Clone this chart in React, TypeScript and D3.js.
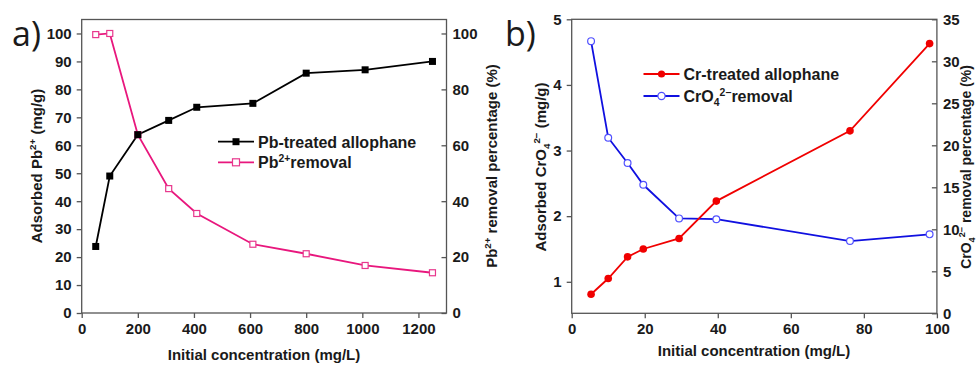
import React, { useEffect, useRef } from 'react';
import * as d3 from 'd3';

// Panel a: Pb
const pbConc = [50, 100, 200, 310, 410, 610, 800, 1010, 1250];
const pbAdsorbed = [23.8, 49, 63.8, 68.9, 73.6, 75, 85.8, 87, 90];
const pbRemoval = [99.6, 100, 63.8, 44.5, 35.6, 24.6, 21.2, 17, 14.4];
const pbXTicks = [0, 200, 400, 600, 800, 1000, 1200];
const pbLeftTicks = [0, 10, 20, 30, 40, 50, 60, 70, 80, 90, 100];
const pbRightTicks = [0, 20, 40, 60, 80, 100];

// Panel b: CrO4
const crConc = [5.3, 10, 15.3, 19.6, 29.4, 39.6, 76.2, 98];
const crAdsorbed = [0.81, 1.05, 1.38, 1.5, 1.66, 2.23, 3.3, 4.63];
const crRemoval = [32.4, 20.9, 17.9, 15.3, 11.3, 11.2, 8.6, 9.4];
const crXTicks = [0, 20, 40, 60, 80, 100];
const crLeftTicks = [1, 2, 3, 4, 5];
const crRightTicks = [0, 5, 10, 15, 20, 25, 30, 35];

const FONT = "'Liberation Sans', Arial, sans-serif";
const AXIS = '#555';

type Sel = d3.Selection<SVGGElement, unknown, null, undefined>;

function drawPanel(
  g: Sel,
  opt: {
    x0: number; x1: number; top: number; bottom: number;
    xDomain: [number, number]; yLDomain: [number, number]; yRDomain: [number, number];
    xTicks: number[]; yLTicks: number[]; yRTicks: number[];
    xs: number[]; left: number[]; right: number[];
    leftColor: string; rightColor: string; rightMarkerStroke: string;
    marker: 'square' | 'circle';
  }
) {
  const x = d3.scaleLinear().domain(opt.xDomain).range([opt.x0, opt.x1]);
  const yL = d3.scaleLinear().domain(opt.yLDomain).range([opt.bottom, opt.top]);
  const yR = d3.scaleLinear().domain(opt.yRDomain).range([opt.bottom, opt.top]);
  const fmt = (d: d3.NumberValue) => String(d);

  const styleAxis = (a: Sel) => {
    a.select('.domain').remove();
    a.selectAll('line').attr('stroke', AXIS).attr('stroke-width', 1.3);
    a.selectAll('text')
      .style('font-family', FONT)
      .style('font-weight', 'bold')
      .style('font-size', '15px')
      .attr('fill', '#1a1a1a');
  };

  g.append('g')
    .attr('transform', `translate(0,${opt.bottom})`)
    .call(d3.axisBottom(x).tickValues(opt.xTicks).tickFormat(fmt).tickSize(5).tickPadding(5))
    .call(styleAxis);
  g.append('g')
    .attr('transform', `translate(${opt.x0},0)`)
    .call(d3.axisLeft(yL).tickValues(opt.yLTicks).tickFormat(fmt).tickSize(5).tickPadding(5))
    .call(styleAxis);
  g.append('g')
    .attr('transform', `translate(${opt.x1},0)`)
    .call(d3.axisRight(yR).tickValues(opt.yRTicks).tickFormat(fmt).tickSize(-5).tickPadding(6))
    .call(styleAxis);

  g.append('rect')
    .attr('x', opt.x0)
    .attr('y', opt.top)
    .attr('width', opt.x1 - opt.x0)
    .attr('height', opt.bottom - opt.top)
    .attr('fill', 'none')
    .attr('stroke', AXIS)
    .attr('stroke-width', 1.3);

  const idx = d3.range(opt.xs.length);

  const line = (yScale: d3.ScaleLinear<number, number>, vals: number[]) =>
    d3.line<number>().x((i) => x(opt.xs[i])).y((i) => yScale(vals[i]))(idx);

  // right series (removal)
  g.append('path')
    .attr('d', line(yR, opt.right))
    .attr('fill', 'none')
    .attr('stroke', opt.rightColor)
    .attr('stroke-width', 1.8);
  // left series (adsorbed)
  g.append('path')
    .attr('d', line(yL, opt.left))
    .attr('fill', 'none')
    .attr('stroke', opt.leftColor)
    .attr('stroke-width', 1.8);

  if (opt.marker === 'square') {
    g.selectAll('.mr')
      .data(idx)
      .enter()
      .append('rect')
      .attr('x', (i) => x(opt.xs[i]) - 3)
      .attr('y', (i) => yR(opt.right[i]) - 3)
      .attr('width', 6)
      .attr('height', 6)
      .attr('fill', '#fff')
      .attr('stroke', opt.rightMarkerStroke)
      .attr('stroke-width', 1.2);
    g.selectAll('.ml')
      .data(idx)
      .enter()
      .append('rect')
      .attr('x', (i) => x(opt.xs[i]) - 3.5)
      .attr('y', (i) => yL(opt.left[i]) - 3.5)
      .attr('width', 7)
      .attr('height', 7)
      .attr('fill', opt.leftColor);
  } else {
    g.selectAll('.mr')
      .data(idx)
      .enter()
      .append('circle')
      .attr('cx', (i) => x(opt.xs[i]))
      .attr('cy', (i) => yR(opt.right[i]))
      .attr('r', 3.4)
      .attr('fill', '#fff')
      .attr('stroke', opt.rightMarkerStroke)
      .attr('stroke-width', 1.2);
    g.selectAll('.ml')
      .data(idx)
      .enter()
      .append('circle')
      .attr('cx', (i) => x(opt.xs[i]))
      .attr('cy', (i) => yL(opt.left[i]))
      .attr('r', 3.8)
      .attr('fill', opt.leftColor);
  }
}

function legendRow(
  g: Sel, lx: number, ly: number, color: string, markerStroke: string,
  marker: 'square' | 'circle', filled: boolean
) {
  g.append('line')
    .attr('x1', lx).attr('x2', lx + 36).attr('y1', ly).attr('y2', ly)
    .attr('stroke', color).attr('stroke-width', 1.8);
  const cx = lx + 18;
  if (marker === 'square') {
    g.append('rect')
      .attr('x', cx - 3.5).attr('y', ly - 3.5).attr('width', 7).attr('height', 7)
      .attr('fill', filled ? color : '#fff')
      .attr('stroke', filled ? 'none' : markerStroke).attr('stroke-width', 1.2);
  } else {
    g.append('circle')
      .attr('cx', cx).attr('cy', ly).attr('r', 3.6)
      .attr('fill', filled ? color : '#fff')
      .attr('stroke', filled ? 'none' : markerStroke).attr('stroke-width', 1.2);
  }
}

export default function App() {
  const ref = useRef<SVGSVGElement>(null);

  useEffect(() => {
    if (!ref.current) return;
    const svg = d3.select(ref.current);
    svg.selectAll('*').remove();
    const g = svg.append('g') as unknown as Sel;

    const pink = '#e8177d';

    drawPanel(g, {
      x0: 81.7, x1: 446.5, top: 19.5, bottom: 313,
      xDomain: [0, 1300], yLDomain: [0, 105], yRDomain: [0, 105],
      xTicks: pbXTicks, yLTicks: pbLeftTicks, yRTicks: pbRightTicks,
      xs: pbConc, left: pbAdsorbed, right: pbRemoval,
      leftColor: '#000', rightColor: pink, rightMarkerStroke: '#e8378d',
      marker: 'square',
    });

    drawPanel(g, {
      x0: 571.7, x1: 936.9, top: 19.3, bottom: 313.3,
      xDomain: [0, 100], yLDomain: [0.52, 5], yRDomain: [0, 35],
      xTicks: crXTicks, yLTicks: crLeftTicks, yRTicks: crRightTicks,
      xs: crConc, left: crAdsorbed, right: crRemoval,
      leftColor: '#f00000', rightColor: '#1010e0', rightMarkerStroke: '#5050ff',
      marker: 'circle',
    });

    // Legends
    legendRow(g, 218, 141.7, '#000', '#000', 'square', true);
    legendRow(g, 218, 162.3, pink, '#e8378d', 'square', false);
    legendRow(g, 643.5, 74, '#f00000', '#f00000', 'circle', true);
    legendRow(g, 643.5, 96, '#1010e0', '#5050ff', 'circle', false);

    const txt = (x: number, y: number, size: number, weight = 'bold', anchor = 'start', rot = 0) =>
      g.append('text')
        .attr('transform', `translate(${x},${y}) rotate(${rot})`)
        .style('font-family', FONT)
        .style('font-size', `${size}px`)
        .style('font-weight', weight)
        .attr('text-anchor', anchor)
        .attr('fill', '#1a1a1a');

    const sup = (t: d3.Selection<SVGTextElement, unknown, null, undefined>, base: string, s: string, after: string) => {
      t.append('tspan').text(base);
      t.append('tspan').attr('dy', -6).attr('font-size', '0.65em').text(s);
      t.append('tspan').attr('dy', 6).text(after);
    };

    const cro4 = (t: d3.Selection<SVGTextElement, unknown, null, undefined>, before: string, after: string) => {
      t.append('tspan').text(before + 'CrO');
      t.append('tspan').attr('dy', 4).attr('font-size', '0.65em').text('4');
      t.append('tspan').attr('dy', -10).attr('font-size', '0.65em').text('2−');
      t.append('tspan').attr('dy', 6).text(after);
    };

    // legend texts
    txt(258, 147.5, 16).text('Pb-treated allophane');
    sup(txt(258, 168, 16), 'Pb', '2+', 'removal');
    txt(683.5, 80, 16).text('Cr-treated allophane');
    cro4(txt(683.5, 102, 16), '', 'removal');

    // panel labels
    txt(12, 46, 34, 'normal').style('font-family', "'Open Sans', 'Noto Sans', sans-serif").text('a)');
    txt(505, 46, 34, 'normal').style('font-family', "'Open Sans', 'Noto Sans', sans-serif").text('b)');

    // axis titles panel a
    sup(txt(42, 166, 15, 'bold', 'middle', -90), 'Adsorbed Pb', '2+', ' (mg/g)');
    sup(txt(497, 166, 15, 'bold', 'middle', -90), 'Pb', '2+', ' removal percentage (%)');
    txt(264, 360, 15, 'bold', 'middle').text('Initial concentration (mg/L)');

    // axis titles panel b
    cro4(txt(546, 167, 15, 'bold', 'middle', -90), 'Adsorbed ', ' (mg/g)');
    cro4(txt(971, 167, 14, 'bold', 'middle', -90), '', ' removal percentage (%)');
    txt(754, 356, 15, 'bold', 'middle').text('Initial concentration (mg/L)');
  }, []);

  return (
    <svg
      ref={ref}
      width={979}
      height={365}
      style={{ position: 'absolute', left: 0, top: 0, background: '#fff' }}
    />
  );
}
